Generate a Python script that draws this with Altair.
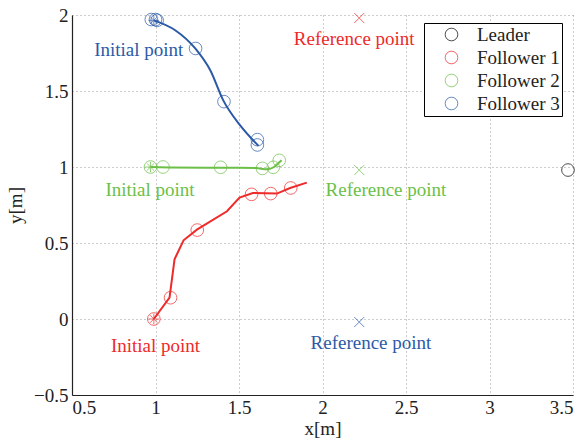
import altair as alt
import pandas as pd

FONT = "Liberation Serif"

series = ["Leader", "Follower 1", "Follower 2", "Follower 3"]
colors = ["#000000", "#ee2a2a", "#6cbf47", "#2b5aa8"]

# Leader
leader_x = [3.47]
leader_y = [0.98]

# Follower 1 (red)
f1_path_x = [0.99, 1.084, 1.114, 1.168, 1.248, 1.428, 1.503, 1.583, 1.727, 1.806, 1.906]
f1_path_y = [0.0, 0.141, 0.393, 0.518, 0.588, 0.709, 0.799, 0.829, 0.825, 0.862, 0.897]
f1_circ_x = [0.99, 1.09, 1.25, 1.575, 1.69, 1.81]
f1_circ_y = [0.0, 0.14, 0.585, 0.82, 0.825, 0.862]

# Follower 2 (green)
f2_path_x = [0.97, 1.1, 1.3, 1.5, 1.6, 1.67, 1.71, 1.74, 1.755]
f2_path_y = [1.0, 0.997, 0.995, 0.995, 0.993, 0.985, 1.0, 1.03, 1.045]
f2_circ_x = [0.97, 1.045, 1.39, 1.64, 1.705, 1.741]
f2_circ_y = [1.0, 1.0, 0.998, 0.991, 0.998, 1.044]

# Follower 3 (blue)
f3_path_x = [0.99, 1.118, 1.238, 1.328, 1.405, 1.507, 1.617]
f3_path_y = [1.965, 1.90, 1.78, 1.636, 1.44, 1.274, 1.139]
f3_circ_x = [0.975, 1.0, 1.01, 1.24, 1.41, 1.61, 1.61]
f3_circ_y = [1.97, 1.97, 1.965, 1.78, 1.43, 1.18, 1.145]

# Initial points (asterisks)
init_series = ["Follower 1", "Follower 2", "Follower 3"]
init_x = [0.99, 0.97, 0.99]
init_y = [0.0, 1.0, 1.965]

# Reference points (x markers)
ref_series = ["Follower 1", "Follower 2", "Follower 3"]
ref_x = [2.22, 2.22, 2.22]
ref_y = [1.98, 0.98, -0.02]

# Annotations
label_series = ["Follower 3", "Follower 1", "Follower 2", "Follower 2", "Follower 1", "Follower 3"]
label_text = ["Initial point", "Reference point", "Initial point", "Reference point",
              "Initial point", "Reference point"]
label_x = [0.90, 2.19, 0.967, 2.38, 1.0, 2.29]
label_y = [1.772, 1.84, 0.847, 0.847, -0.175, -0.155]

x_ticks = [0.5, 1, 1.5, 2, 2.5, 3, 3.5]
y_ticks = [-0.5, 0, 0.5, 1, 1.5, 2]

# ---- build tables ----
paths = []
for name, xs_, ys_ in [("Follower 1", f1_path_x, f1_path_y),
                       ("Follower 2", f2_path_x, f2_path_y),
                       ("Follower 3", f3_path_x, f3_path_y)]:
    for i, (a, b) in enumerate(zip(xs_, ys_)):
        paths.append({"series": name, "x": a, "y": b, "i": i})
paths = pd.DataFrame(paths)

circles = []
for name, xs_, ys_ in [("Leader", leader_x, leader_y),
                       ("Follower 1", f1_circ_x, f1_circ_y),
                       ("Follower 2", f2_circ_x, f2_circ_y),
                       ("Follower 3", f3_circ_x, f3_circ_y)]:
    for a, b in zip(xs_, ys_):
        circles.append({"series": name, "x": a, "y": b})
circles = pd.DataFrame(circles)

inits = pd.DataFrame({"series": init_series, "x": init_x, "y": init_y})
refs = pd.DataFrame({"series": ref_series, "x": ref_x, "y": ref_y})
labels = pd.DataFrame({"series": label_series, "text": label_text, "x": label_x, "y": label_y})

xs = alt.Scale(domain=[0.5, 3.5], nice=False, zero=False)
ys = alt.Scale(domain=[-0.5, 2], nice=False, zero=False)
cscale = alt.Scale(domain=series, range=colors)
fscale = alt.Scale(domain=series[1:], range=colors[1:])

x_axis = alt.Axis(values=x_ticks, title="x[m]", grid=True, format="~g")
y_axis = alt.Axis(values=y_ticks, title="y[m]", grid=True, format="~g")

X = alt.X("x:Q", scale=xs, axis=x_axis)
Y = alt.Y("y:Q", scale=ys, axis=y_axis)

line_enc = dict(
    x=alt.X("x:Q", scale=xs), y=alt.Y("y:Q", scale=ys),
    stroke=alt.Stroke("series:N", scale=fscale, legend=None),
    detail="series:N", order="i:Q")

lines_red = alt.Chart(paths).transform_filter(
    alt.datum.series == "Follower 1"
).mark_line(strokeWidth=2, clip=False).encode(**line_enc)

lines_smooth = alt.Chart(paths).transform_filter(
    alt.datum.series != "Follower 1"
).mark_line(strokeWidth=2, clip=False, interpolate="monotone").encode(**line_enc)

pts = alt.Chart(circles).mark_point(filled=False, shape="circle", size=160, strokeWidth=1, clip=False).encode(
    x=X, y=Y,
    color=alt.Color("series:N", scale=cscale, title=None,
                    legend=alt.Legend(orient="none", legendX=352, legendY=8,
                                      symbolType="circle", symbolSize=160,
                                      symbolStrokeWidth=1,
                                      labelFont=FONT, labelFontSize=19, labelColor="#222222",
                                      strokeColor="black", fillColor="white",
                                      padding=2, rowPadding=3, labelOffset=16,
                                      symbolOffset=16, labelLimit=300)),
)

star_path = "M-1,0L1,0M0,-1L0,1M-0.7,-0.7L0.7,0.7M-0.7,0.7L0.7,-0.7"
stars = alt.Chart(inits).mark_point(shape=star_path, size=110, strokeWidth=1, filled=False).encode(
    x=alt.X("x:Q", scale=xs), y=alt.Y("y:Q", scale=ys),
    stroke=alt.Stroke("series:N", scale=fscale, legend=None))

x_path = "M-1,-1L1,1M-1,1L1,-1"
crosses = alt.Chart(refs).mark_point(shape=x_path, size=100, strokeWidth=1, filled=False).encode(
    x=alt.X("x:Q", scale=xs), y=alt.Y("y:Q", scale=ys),
    stroke=alt.Stroke("series:N", scale=fscale, legend=None))

texts = alt.Chart(labels).mark_text(font=FONT, fontSize=19, align="center", baseline="middle").encode(
    x=alt.X("x:Q", scale=xs), y=alt.Y("y:Q", scale=ys), text="text:N",
    fill=alt.Fill("series:N", scale=fscale, legend=None))

chart = alt.layer(lines_red, lines_smooth, pts, stars, crosses, texts).properties(
    width=501, height=380,
    autosize=alt.AutoSizeParams(type="none"),
    padding={"left": 72, "top": 15, "right": 10, "bottom": 46},
).configure(font=FONT).configure_view(stroke=None).configure_axis(
    labelFont=FONT, labelFontSize=19, labelColor="#222222",
    titleFont=FONT, titleFontSize=19, titleColor="#222222", titleFontWeight="normal",
    domainColor="#222222", domainWidth=1.2,
    tickSize=0,
    gridColor="#999999", gridDash=[1, 3], gridWidth=1,
).configure_legend(labelFont=FONT).configure_axisX(labelPadding=3, titlePadding=2).configure_axisY(labelPadding=4, titlePadding=8)

chart.save("out.html", embed_options={"renderer": "svg", "actions": False})
